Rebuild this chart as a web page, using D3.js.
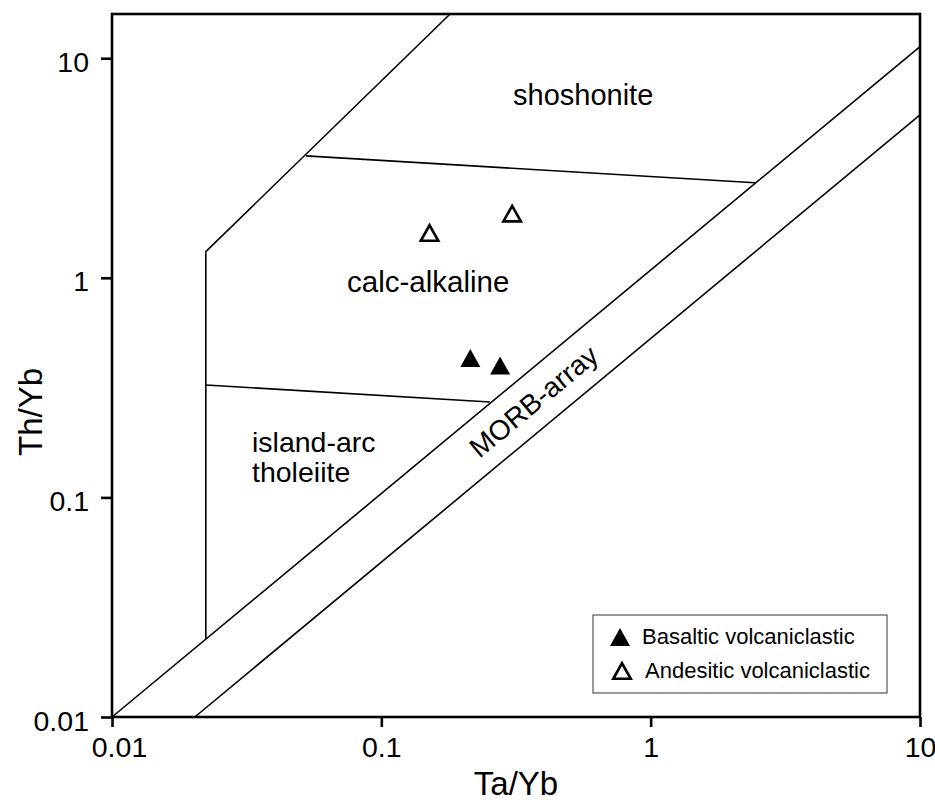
<!DOCTYPE html>
<html>
<head>
<meta charset="utf-8">
<script src="https://cdn.jsdelivr.net/npm/d3@7"></script>
<style>
  body { margin: 0; background: #fff; }
  svg { display: block; font-family: "Liberation Sans", Arial, sans-serif; }
</style>
</head>
<body>
<svg id="chart" width="935" height="804"></svg>
<script>
const svg = d3.select("#chart");

// ticks
const xTicks = [0.01, 0.1, 1, 10];
const yTicks = [0.01, 0.1, 1, 10];

// field boundaries (Ta/Yb, Th/Yb)
const morbUpper = [[0.01, 0.01], [10, 11.3]];
const morbLower = [[0.0203, 0.01], [10, 5.52]];
const arcEnvelope = [[0.0223, 0.0227], [0.0223, 1.316], [0.18, 15.9]];
const shoshoniteLine = [[0.0525, 3.59], [2.44, 2.71]];
const tholeiiteLine = [[0.0223, 0.325], [0.253, 0.272]];

// samples
const basalticTa = [0.214, 0.276];
const basalticTh = [0.431, 0.399];
const andesiticTa = [0.151, 0.306];
const andesiticTh = [1.60, 1.96];

const pLeft = 112, pRight = 920, pTop = 14, pBottom = 717;

const x = d3.scaleLog().domain([0.01, 10]).range([pLeft, pRight]);
const y = d3.scaleLog().domain([0.01, 15.9]).range([pBottom, pTop]);

const line = d3.line().x((d) => x(d[0])).y((d) => y(d[1]));

// triangle path centred on bbox middle
function tri(w, h) {
  return `M0,${-h / 2}L${w / 2},${h / 2}L${-w / 2},${h / 2}Z`;
}

// field lines
const g = svg.append("g");
[morbUpper, morbLower, arcEnvelope, shoshoniteLine, tholeiiteLine].forEach((d) => {
  g.append("path")
    .attr("d", line(d))
    .attr("fill", "none")
    .attr("stroke", "#000")
    .attr("stroke-width", 1.6);
});

// region labels
const lbl = (tx, ty, s, size) =>
  svg.append("text").attr("x", tx).attr("y", ty)
    .attr("font-size", size).attr("fill", "#000").text(s);

lbl(513, 105, "shoshonite", 29);
lbl(347, 292, "calc-alkaline", 29.5);
lbl(252, 452, "island-arc", 28.5);
lbl(252, 482, "tholeiite", 28.5);

const ang = Math.atan2(y(morbUpper[0][1]) - y(morbUpper[1][1]),
  x(morbUpper[1][0]) - x(morbUpper[0][0])) * 180 / Math.PI;
const mx = x(0.388), my = y(0.253);
svg.append("text")
  .attr("transform", `translate(${mx},${my}) rotate(${-ang})`)
  .attr("text-anchor", "middle")
  .attr("font-size", 28)
  .text("MORB-array");

// samples
svg.selectAll(".bas")
  .data(basalticTa)
  .enter()
  .append("path")
  .attr("d", tri(20, 18))
  .attr("transform", (d, i) => `translate(${x(d)},${y(basalticTh[i])})`)
  .attr("fill", "#000");

svg.selectAll(".and")
  .data(andesiticTa)
  .enter()
  .append("path")
  .attr("d", tri(17.5, 15.5))
  .attr("transform", (d, i) => `translate(${x(d)},${y(andesiticTh[i])})`)
  .attr("fill", "none")
  .attr("stroke", "#000")
  .attr("stroke-width", 2.6)
  .attr("stroke-linejoin", "miter");

// axes
const fmt = d3.format("~g");
const xAxis = svg.append("g")
  .attr("transform", `translate(0,${pBottom})`)
  .call(d3.axisBottom(x).tickValues(xTicks).tickFormat(fmt).tickSize(10).tickSizeOuter(0).tickPadding(10));
const yAxis = svg.append("g")
  .attr("transform", `translate(${pLeft},0)`)
  .call(d3.axisLeft(y).tickValues(yTicks).tickFormat(fmt).tickSize(11).tickSizeOuter(0).tickPadding(12));

[xAxis, yAxis].forEach((a) => {
  a.select(".domain").remove();
  a.selectAll(".tick line").attr("stroke", "#000").attr("stroke-width", 2.6);
  a.selectAll(".tick text")
    .attr("font-size", 28.5)
    .attr("font-family", "Liberation Sans, Arial, sans-serif")
    .attr("fill", "#000");
});
yAxis.selectAll(".tick text").attr("dy", "0.32em").attr("transform", "translate(0,4)");
xAxis.selectAll(".tick text").attr("dy", "0.71em")
  .attr("dx", (d) => (d === 0.01 ? 7 : 0));

svg.append("rect")
  .attr("x", pLeft).attr("y", pTop)
  .attr("width", pRight - pLeft).attr("height", pBottom - pTop)
  .attr("fill", "none").attr("stroke", "#000").attr("stroke-width", 2.6);

// axis titles
svg.append("text")
  .attr("x", (pLeft + pRight) / 2).attr("y", 795)
  .attr("text-anchor", "middle").attr("font-size", 33)
  .text("Ta/Yb");
svg.append("text")
  .attr("transform", "translate(42,412) rotate(-90)")
  .attr("text-anchor", "middle").attr("font-size", 33)
  .text("Th/Yb");

// legend
const lg = svg.append("g").attr("transform", "translate(593,615)");
lg.append("rect").attr("width", 294).attr("height", 78)
  .attr("fill", "#fff").attr("stroke", "#555").attr("stroke-width", 1.2);
const legendItems = ["Basaltic volcaniclastic", "Andesitic volcaniclastic"];
legendItems.forEach((s, i) => {
  const row = lg.append("g").attr("transform", `translate(0,${22 + i * 34})`);
  if (i === 0) {
    row.append("path").attr("d", tri(20, 18)).attr("transform", "translate(27,0)").attr("fill", "#000");
  } else {
    row.append("path").attr("d", tri(17.5, 15.5)).attr("transform", "translate(29,0)")
      .attr("fill", "none").attr("stroke", "#000").attr("stroke-width", 2.6);
  }
  row.append("text")
    .attr("x", i === 0 ? 49 : 52).attr("y", 7)
    .attr("font-size", 22).text(s);
});
</script>
</body>
</html>
